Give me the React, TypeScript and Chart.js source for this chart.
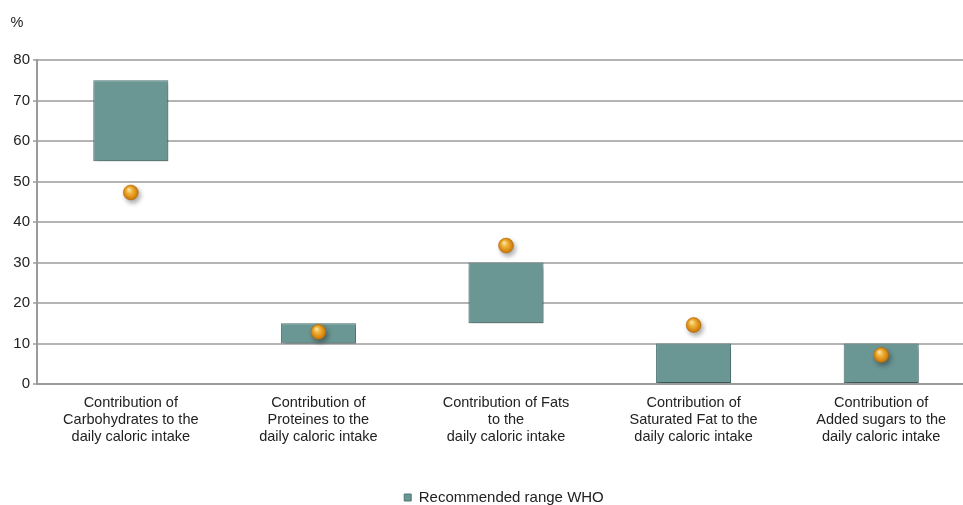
import React, { useEffect, useRef } from "react";
import { Chart, registerables } from "chart.js";

Chart.register(...registerables);

const categories: string[][] = [
  ["Contribution of", "Carbohydrates to the", "daily caloric intake"],
  ["Contribution of", "Proteines to the", "daily caloric intake"],
  ["Contribution of Fats", "to the", "daily caloric intake"],
  ["Contribution of", "Saturated Fat to the", "daily caloric intake"],
  ["Contribution of", "Added sugars to the", "daily caloric intake"],
];
const rangeLow: number[] = [55, 10, 15, 0, 0];
const rangeHigh: number[] = [75, 15, 30, 10, 10];
const actualValues: number[] = [47.3, 12.9, 34.2, 14.6, 7.2];
const yTicks: number[] = [0, 10, 20, 30, 40, 50, 60, 70, 80];
const rangeLabel = "Recommended range WHO";
const actualLabel = "Actual intake";
const unitLabel = "%";

const FONT = "'Liberation Sans', Arial, sans-serif";
const W = 983;
const H = 505;

export default function App() {
  const ref = useRef<HTMLCanvasElement | null>(null);
  useEffect(() => {
    document.body.style.margin = "0";
    document.body.style.overflow = "hidden";
    document.documentElement.style.overflow = "hidden";
    const canvas = ref.current!;
    const unitPlugin = {
      id: "unitLabel",
      afterDraw(chart: any) {
        const c = chart.ctx;
        c.save();
        c.font = `14.5px ${FONT}`;
        c.fillStyle = "#222";
        c.textAlign = "center";
        c.textBaseline = "middle";
        c.fillText(unitLabel, 17, 23);
        c.restore();
      },
    };
    const legendShift = {
      id: "legendShift",
      afterLayout(chart: any) {
        const lg = chart.legend;
        if (!lg) return;
        lg.left += 14;
        lg.right += 14;
        lg.top += 12;
        lg.bottom += 12;
      },
    };
    const shadowPlugin = {
      id: "shadows",
      beforeDatasetDraw(chart: any) {
        const c = chart.ctx;
        c.save();
        c.shadowColor = "rgba(0,0,0,0.35)";
        c.shadowBlur = 5;
        c.shadowOffsetX = 2;
        c.shadowOffsetY = 3;
      },
      afterDatasetDraw(chart: any) {
        chart.ctx.restore();
      },
    };
    const chart = new Chart(canvas, {
      type: "bar",
      data: {
        labels: categories,
        datasets: [
          {
            type: "line",
            label: actualLabel,
            data: actualValues,
            showLine: false,
            pointRadius: 7.5,
            pointHoverRadius: 7.5,
            pointBorderWidth: 0.5,
            pointBorderColor: "#b86d0c",
            pointBackgroundColor: (ctx: any) => {
              const ch = ctx.chart;
              if (ctx.type !== "data" || !ch.scales || !ch.scales.x) return "#e49a1f";
              const x = ch.scales.x.getPixelForValue(ctx.dataIndex);
              const y = ch.scales.y.getPixelForValue(ctx.raw);
              if (!isFinite(x) || !isFinite(y)) return "#e49a1f";
              const g = ch.ctx.createRadialGradient(x - 2, y - 3, 0.5, x, y, 8);
              g.addColorStop(0, "#fde9a8");
              g.addColorStop(0.35, "#f4b53a");
              g.addColorStop(0.8, "#d8860f");
              g.addColorStop(1, "#b86d0c");
              return g;
            },
            order: 0,
          } as any,
          {
            type: "bar",
            label: rangeLabel,
            data: rangeLow.map((lo, i) => [lo, rangeHigh[i]]),
            backgroundColor: "#6a9694",
            borderColor: "#4d7775",
            borderWidth: 1,
            borderSkipped: false,
            barPercentage: 0.8,
            categoryPercentage: 0.5,
            order: 1,
          } as any,
        ],
      },
      options: {
        animation: false,
        responsive: false,
        maintainAspectRatio: false,
        layout: { padding: { left: 0, right: 3, top: 60, bottom: 2 } },
        scales: {
          x: {
            grid: { display: false, drawTicks: false },
            border: { display: true, color: "#9a9a9a", width: 2 },
            afterFit: (scale: any) => {
              scale.height += 15;
            },
            ticks: {
              color: "#222",
              font: { family: FONT, size: 14.5, lineHeight: 1.17 },
              padding: 10,
              maxRotation: 0,
              autoSkip: false,
            },
          },
          y: {
            min: 0,
            max: 80,
            afterBuildTicks: (scale: any) => {
              scale.ticks = yTicks.map((v) => ({ value: v }));
            },
            afterFit: (scale: any) => {
              scale.width = 37;
            },
            grid: {
              color: "#b4b4b4",
              lineWidth: 2,
              tickLength: 4,
              drawTicks: true,
            },
            border: { display: true, color: "#9a9a9a", width: 2 },
            ticks: {
              color: "#222",
              font: { family: FONT, size: 15 },
              padding: 3,
            },
          },
        },
        plugins: {
          legend: {
            position: "bottom",
            labels: {
              color: "#222",
              font: { family: FONT, size: 15 },
              boxWidth: 7,
              boxHeight: 7,
              padding: 8,
              filter: (item: any) => item.text === rangeLabel,
            },
          },
          tooltip: { enabled: false },
        },
      },
      plugins: [unitPlugin, shadowPlugin, legendShift],
    });
    return () => chart.destroy();
  }, []);
  return (
    <div style={{ width: W, height: H, position: "relative" }}>
      <canvas ref={ref} width={W} height={H} style={{ width: W, height: H, display: "block" }} />
    </div>
  );
}
